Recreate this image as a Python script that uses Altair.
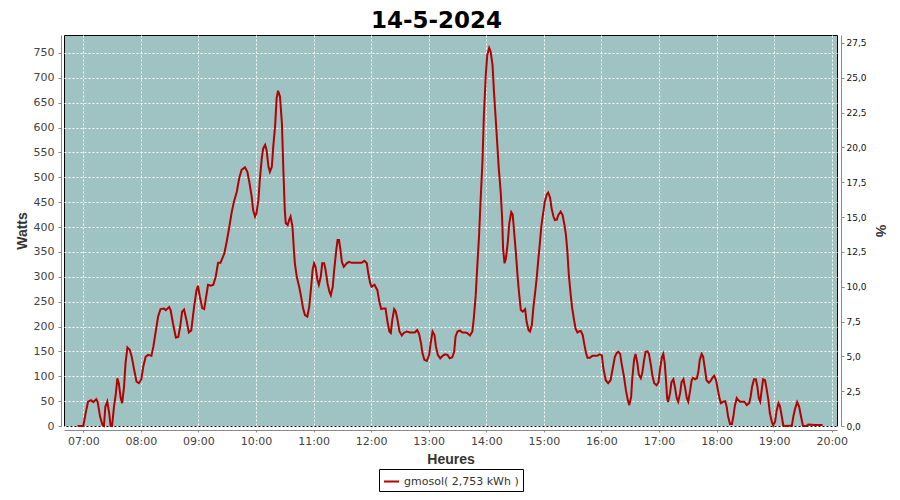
import altair as alt
import pandas as pd

TITLE = "14-5-2024"
SERIES = "gmosol( 2,753 kWh )"
DAY = "2024-05-14"

times = [
    "06:54:00", "07:00:00", "07:02:30", "07:05:00", "07:08:00", "07:10:30", "07:13:30", "07:15:00",
    "07:17:30", "07:20:00", "07:21:30", "07:23:00", "07:25:00", "07:27:00", "07:28:30", "07:30:00",
    "07:32:00", "07:34:00", "07:35:30", "07:37:00", "07:39:00", "07:40:30", "07:42:30", "07:44:00",
    "07:46:00", "07:48:30", "07:50:30", "07:53:00", "07:55:30", "07:58:00", "08:00:30", "08:02:30",
    "08:05:00", "08:07:30", "08:11:00", "08:13:00", "08:15:30", "08:18:00", "08:20:30", "08:24:00",
    "08:26:00", "08:29:30", "08:31:00", "08:33:30", "08:36:30", "08:39:00", "08:41:00", "08:43:00",
    "08:45:00", "08:47:30", "08:50:00", "08:52:30", "08:55:30", "08:58:00", "08:59:30", "09:01:30",
    "09:04:00", "09:06:00", "09:07:30", "09:10:00", "09:13:00", "09:15:30", "09:18:00", "09:20:30",
    "09:23:00", "09:27:00", "09:29:30", "09:32:00", "09:34:30", "09:37:00", "09:40:00", "09:42:30",
    "09:45:00", "09:48:30", "09:51:00", "09:53:00", "09:55:30", "09:57:00", "09:59:00", "10:00:30",
    "10:02:30", "10:04:00", "10:06:00", "10:07:30", "10:09:30", "10:11:00", "10:13:00", "10:14:30",
    "10:16:30", "10:18:00", "10:20:00", "10:21:30", "10:23:00", "10:25:00", "10:27:00", "10:28:30",
    "10:30:00", "10:31:00", "10:33:00", "10:34:30", "10:36:00", "10:38:00", "10:39:30", "10:40:30",
    "10:42:30", "10:45:00", "10:47:00", "10:49:00", "10:51:00", "10:53:30", "10:55:30", "10:57:30",
    "10:59:00", "11:00:30", "11:02:00", "11:04:00", "11:05:30", "11:07:30", "11:09:00", "11:11:00",
    "11:12:30", "11:14:30", "11:16:30", "11:18:00", "11:20:00", "11:21:30", "11:23:30", "11:25:00",
    "11:26:30", "11:28:00", "11:29:30", "11:31:30", "11:34:30", "11:37:00", "11:39:30", "11:45:00",
    "11:50:00", "11:53:00", "11:55:30", "11:57:00", "11:59:00", "12:00:30", "12:03:30", "12:06:30",
    "12:08:30", "12:10:30", "12:12:30", "12:15:00", "12:17:00", "12:19:00", "12:20:30", "12:22:00",
    "12:24:00", "12:25:30", "12:27:30", "12:29:30", "12:32:00", "12:34:00", "12:37:00", "12:40:30",
    "12:45:30", "12:48:00", "12:50:00", "12:52:00", "12:53:30", "12:55:30", "12:58:00", "13:00:30",
    "13:02:00", "13:04:00", "13:06:00", "13:07:30", "13:09:30", "13:12:00", "13:14:30", "13:17:00",
    "13:19:30", "13:22:00", "13:24:30", "13:26:30", "13:28:00", "13:30:00", "13:32:30", "13:35:00",
    "13:38:00", "13:40:00", "13:43:00", "13:45:30", "13:47:00", "13:49:00", "13:50:30", "13:52:30",
    "13:54:00", "13:56:00", "13:57:30", "13:59:30", "14:01:00", "14:03:00", "14:04:30", "14:06:30",
    "14:08:00", "14:10:00", "14:11:30", "14:13:00", "14:15:00", "14:16:30", "14:17:30", "14:19:00",
    "14:20:30", "14:22:30", "14:24:00", "14:26:00", "14:27:30", "14:29:00", "14:31:00", "14:32:30",
    "14:34:00", "14:36:00", "14:38:00", "14:40:30", "14:42:00", "14:44:00", "14:45:30", "14:47:30",
    "14:49:00", "14:51:00", "14:52:30", "14:54:00", "14:56:00", "14:57:30", "14:59:30", "15:01:00",
    "15:03:00", "15:04:30", "15:06:30", "15:08:00", "15:10:00", "15:11:30", "15:13:30", "15:15:00",
    "15:17:30", "15:19:30", "15:21:30", "15:23:00", "15:24:30", "15:26:00", "15:28:00", "15:29:30",
    "15:31:30", "15:33:00", "15:35:00", "15:36:30", "15:38:30", "15:40:30", "15:42:00", "15:44:00",
    "15:45:30", "15:48:00", "15:50:30", "15:53:30", "15:55:30", "15:58:00", "16:00:30", "16:02:00",
    "16:04:30", "16:07:00", "16:09:30", "16:11:30", "16:14:00", "16:16:00", "16:17:30", "16:19:30",
    "16:21:00", "16:23:30", "16:25:30", "16:27:30", "16:29:00", "16:31:00", "16:32:00", "16:34:00",
    "16:35:30", "16:37:30", "16:39:00", "16:41:00", "16:42:30", "16:44:30", "16:46:00", "16:48:00",
    "16:49:30", "16:51:30", "16:53:00", "16:55:00", "16:57:30", "16:59:30", "17:01:00", "17:03:00",
    "17:04:30", "17:06:00", "17:07:30", "17:08:30", "17:09:30", "17:11:30", "17:13:00", "17:15:00",
    "17:16:30", "17:18:30", "17:20:00", "17:22:00", "17:23:30", "17:25:30", "17:27:00", "17:29:00",
    "17:30:30", "17:32:30", "17:34:00", "17:35:30", "17:37:30", "17:39:30", "17:41:00", "17:42:30",
    "17:44:30", "17:46:00", "17:48:00", "17:49:30", "17:52:00", "17:54:00", "17:56:00", "17:57:30",
    "17:59:30", "18:01:00", "18:03:00", "18:04:30", "18:07:00", "18:09:00", "18:10:30", "18:12:00",
    "18:14:00", "18:16:00", "18:17:30", "18:19:00", "18:21:00", "18:22:30", "18:24:30", "18:27:00",
    "18:29:00", "18:31:30", "18:34:00", "18:35:30", "18:37:00", "18:39:00", "18:41:00", "18:42:30",
    "18:44:00", "18:45:30", "18:47:00", "18:48:30", "18:50:30", "18:52:00", "18:54:00", "18:55:30",
    "18:57:30", "18:59:00", "19:01:00", "19:02:30", "19:04:30", "19:06:00", "19:08:00", "19:09:30",
    "19:11:30", "19:18:30", "19:20:00", "19:22:00", "19:24:00", "19:26:00", "19:28:00", "19:30:00",
    "19:31:30", "19:34:00", "19:35:30", "19:42:30", "19:50:30",
]

watts = [
    0, 0, 26, 49, 52, 48, 54, 48,
    19, 2, 0, 39, 49, 26, 0, 0,
    39, 66, 96, 86, 56, 46, 79, 126,
    158, 153, 139, 113, 89, 86, 94, 119,
    139, 143, 141, 159, 190, 220, 235, 236,
    233, 239, 233, 206, 178, 179, 200, 230,
    234, 213, 188, 192, 240, 273, 282, 260,
    237, 235, 253, 284, 282, 284, 300, 328,
    328, 347, 371, 398, 428, 451, 471, 498,
    515, 520, 511, 491, 461, 434, 421, 428,
    454, 495, 538, 558, 565, 555, 521, 511,
    521, 562, 605, 659, 674, 662, 609, 515,
    434, 408, 404, 414, 421, 401, 354, 327,
    300, 280, 260, 237, 223, 220, 240, 280,
    314, 327, 320, 294, 284, 300, 327, 327,
    314, 287, 270, 263, 280, 314, 351, 374,
    374, 354, 330, 320, 327, 330, 328, 328,
    328, 332, 327, 307, 287, 280, 284, 273,
    250, 235, 236, 236, 210, 190, 187, 213,
    235, 231, 213, 190, 182, 187, 190, 188,
    188, 193, 185, 166, 146, 133, 131, 143,
    166, 190, 183, 160, 143, 136, 141, 144,
    143, 136, 138, 149, 180, 190, 192, 188,
    188, 187, 182, 190, 217, 263, 317, 384,
    451, 531, 625, 706, 746, 760, 753, 726,
    672, 612, 565, 518, 471, 418, 357, 327,
    337, 371, 408, 430, 425, 391, 344, 304,
    270, 233, 230, 235, 210, 193, 190, 203,
    237, 270, 297, 330, 371, 404, 431, 451,
    465, 469, 459, 438, 421, 414, 415, 424,
    431, 424, 404, 384, 351, 304, 263, 237,
    213, 196, 188, 190, 191, 183, 166, 146,
    137, 137, 141, 141, 141, 144, 142, 116,
    92, 86, 92, 113, 139, 147, 149, 145,
    126, 99, 72, 52, 42, 59, 92, 133,
    145, 126, 103, 96, 106, 133, 149, 150,
    145, 123, 103, 86, 82, 88, 113, 138,
    145, 126, 86, 56, 48, 66, 88, 94,
    79, 56, 49, 66, 88, 94, 79, 56,
    49, 72, 92, 97, 94, 96, 109, 133,
    145, 139, 113, 92, 87, 91, 98, 101,
    92, 76, 56, 46, 49, 50, 39, 19,
    4, 4, 19, 40, 56, 52, 49, 49,
    49, 42, 46, 59, 79, 94, 94, 79,
    56, 49, 72, 94, 92, 76, 52, 26,
    9, 1, 9, 30, 46, 40, 19, 1,
    0, 1, 19, 36, 48, 39, 19, 1,
    0, 0, 3, 2, 2,
]

hour_ticks = list(range(7, 21))
watt_ticks = list(range(0, 751, 50))
pct_ticks = [0.0, 2.5, 5.0, 7.5, 10.0, 12.5, 15.0, 17.5, 20.0, 22.5, 25.0, 27.5]

df = pd.DataFrame({"t": [DAY + "T" + t for t in times], "w": watts, "s": SERIES})
pct_df = pd.DataFrame({"p": [0.0]})

RED = "#b40000"
FONT = "DejaVu Sans"
TFONT = "Liberation Sans"

x_enc = alt.X(
    "t:T",
    scale=alt.Scale(domain=[
        alt.DateTime(year=2024, month=5, date=14, hours=6, minutes=39, seconds=54),
        alt.DateTime(year=2024, month=5, date=14, hours=20, minutes=5, seconds=30),
    ]),
    axis=alt.Axis(
        title="Heures",
        format="%H:%M",
        values=[alt.DateTime(year=2024, month=5, date=14, hours=h) for h in hour_ticks],
        offset=4, tickSize=2, labelPadding=3, titlePadding=6,
        labelFontSize=11,
    ),
)

line = alt.Chart(df).mark_line(strokeWidth=2, interpolate="linear").encode(
    x=x_enc,
    y=alt.Y(
        "w:Q",
        scale=alt.Scale(domain=[0, 786], nice=False, zero=True),
        axis=alt.Axis(
            title="Watts", orient="left", values=watt_ticks,
            offset=3, tickSize=3, labelPadding=4, titlePadding=4,
            labelFontSize=11,
        ),
    ),
    color=alt.Color(
        "s:N",
        scale=alt.Scale(domain=[SERIES], range=[RED]),
        legend=alt.Legend(
            title=None, orient="none", legendX=315, legendY=434,
            symbolType="stroke", symbolSize=225, symbolStrokeWidth=2,
            symbolStrokeColor=RED,
            labelFont=FONT, labelFontSize=11, labelColor="#333333",
            labelOffset=4, padding=4,
            strokeColor="black", fillColor="white",
        ),
    ),
)

right = alt.Chart(pct_df).mark_point(opacity=0).encode(
    y=alt.Y(
        "p:Q",
        scale=alt.Scale(domain=[0, 28.07], nice=False, zero=True),
        axis=alt.Axis(
            title="%", orient="right", values=pct_ticks,
            labelExpr="replace(format(datum.value, '.1f'), '.', ',')",
            grid=False, offset=4, tickSize=3, labelPadding=2, titlePadding=6,
            labelFontSize=9, labelColor="#111111", titleAngle=90,
        ),
    ),
)

chart = (
    alt.layer(line, right)
    .resolve_scale(y="independent")
    .properties(
        width=773,
        height=391,
        title=alt.TitleParams(
            text=TITLE, font=FONT, fontSize=23, fontWeight="bold", color="black",
            anchor="middle", offset=2, dx=-14,
        ),
        autosize="none",
        padding={"left": 56, "top": 27, "right": 55, "bottom": 66},
        background="white",
    )
    .configure_view(fill="#9fc3c2", stroke="black", strokeWidth=1)
    .configure_axis(
        domainColor="#888888", tickColor="#888888", labelColor="#444444",
        labelFont=FONT, titleFont=TFONT, titleFontSize=14, titleFontWeight="bold",
        titleColor="#333333",
        gridColor="white", gridDash=[2, 2], gridOpacity=1, gridWidth=1,
    )
)

chart.save("out.html", embed_options={"renderer": "svg", "actions": False})
